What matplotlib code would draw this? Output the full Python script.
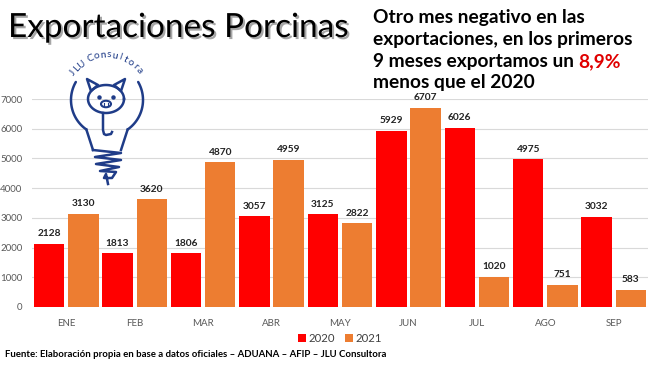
import numpy as np
import matplotlib
matplotlib.use("Agg")
import matplotlib.pyplot as plt
import matplotlib.patheffects as pe
import matplotlib.transforms as mtrans
from matplotlib.patches import Ellipse, Polygon

months = ["ENE", "FEB", "MAR", "ABR", "MAY", "JUN", "JUL", "AGO", "SEP"]
v2020 = [2128, 1813, 1806, 3057, 3125, 5929, 6026, 4975, 3032]
v2021 = [3130, 3620, 4870, 4959, 2822, 6707, 1020, 751, 583]
series_labels = ["2020", "2021"]
yticks = [0, 1000, 2000, 3000, 4000, 5000, 6000, 7000]

RED = "#FF0000"
ORANGE = "#ED7D31"
NAVY = "#1F3C88"
FONT = "Lato"

plt.rcParams["font.family"] = [FONT, "DejaVu Sans"]

W, H = 650, 366
fig = plt.figure(figsize=(W / 100, H / 100), dpi=100)
fig.patch.set_facecolor("white")

ax = fig.add_axes([32 / W, 1 - 307 / H, 616 / W, 208 / H])
x = np.arange(len(months))
bw = 0.445
b1 = ax.bar(x - 0.25, v2020, bw, color=RED, label=series_labels[0], zorder=3)
b2 = ax.bar(x + 0.25, v2021, bw, color=ORANGE, label=series_labels[1], zorder=3)
for b in (b1, b2):
    lbls = ax.bar_label(b, padding=4, fontsize=7.3, fontweight="bold", color="#222222")
    for t in lbls:
        t.set_clip_on(False)

ax.set_xlim(-0.5, len(months) - 0.5)
ax.set_ylim(0, 7000)
ax.set_yticks(yticks)
ax.set_yticklabels([str(v) for v in yticks])
ax.set_xticks(x)
ax.set_xticklabels(months)
ax.tick_params(axis="both", length=0, labelsize=7, colors="#595959")
ax.tick_params(axis="x", pad=9)
ax.tick_params(axis="y", pad=7)
ax.grid(axis="y", color="#D9D9D9", linewidth=0.8, zorder=0)
for s in ax.spines.values():
    s.set_visible(False)

leg = ax.legend(loc="center", bbox_to_anchor=(0.5, -31 / 208), ncol=2, frameon=False,
                fontsize=8.2, handlelength=0.7, handleheight=0.7, handletextpad=0.3,
                columnspacing=0.8, labelcolor="#404040")

# overlay for texts and logo in pixel coordinates
ov = fig.add_axes([0, 0, 1, 1], zorder=5)
ov.set_xlim(0, W)
ov.set_ylim(H, 0)
ov.axis("off")
ov.patch.set_alpha(0)

ov.text(8, 37, "Exportaciones Porcinas", fontsize=24, color="black", ha="left",
        va="baseline", path_effects=[pe.SimplePatchShadow(offset=(1.5, -1.5), alpha=0.35), pe.Normal()])

lines = ["Otro mes negativo en las", "exportaciones, en los primeros",
         "9 meses exportamos un ", "menos que el 2020"]
ys = [23, 45, 67, 88]
rtexts = []
for ln, yy in zip(lines, ys):
    rtexts.append(ov.text(373, yy, ln, fontsize=13.8, fontweight="bold", color="black",
                          ha="left", va="baseline"))
fig.canvas.draw()
bb = rtexts[2].get_window_extent()
ov.text(bb.x1, ys[2], "8,9%", fontsize=13.8, fontweight="bold", color="#E00000",
        ha="left", va="baseline",
        transform=mtrans.blended_transform_factory(mtrans.IdentityTransform(), ov.transData))

ov.text(5, 357, "Fuente: Elaboración propia en base a datos oficiales \u2013 ADUANA \u2013 AFIP \u2013 JLU Consultora",
        fontsize=6.9, fontweight="bold", color="black", ha="left", va="baseline")

# ---- logo (decorative) ----
lw = 1.8
cx, cy, r = 107, 100, 36
t = np.radians(np.linspace(150, 235, 60))
ov.plot(cx + r * np.cos(t), cy - r * np.sin(t), color=NAVY, lw=lw, solid_capstyle="round")
ov.plot([cx + r * np.cos(np.radians(235)), 93], [cy - r * np.sin(np.radians(235)), 150], color=NAVY, lw=lw)
t = np.radians(np.linspace(30, -55, 60))
ov.plot(cx + r * np.cos(t), cy - r * np.sin(t), color=NAVY, lw=lw, solid_capstyle="round")
ov.plot([cx + r * np.cos(np.radians(-55)), 121], [cy - r * np.sin(np.radians(-55)), 150], color=NAVY, lw=lw)

# pig head
th = np.linspace(0, 2 * np.pi, 100)
ov.plot(106 + 18 * np.cos(th), 99 + 14 * np.sin(th), color=NAVY, lw=lw)
ov.add_patch(Polygon([[91, 91], [87, 79], [98, 85]], closed=True, fill=False, ec=NAVY, lw=lw, joinstyle="round"))
ov.add_patch(Polygon([[121, 91], [125, 79], [114, 85]], closed=True, fill=False, ec=NAVY, lw=lw, joinstyle="round"))
ov.plot([99], [97], "o", color=NAVY, ms=2.2)
ov.plot([113], [97], "o", color=NAVY, ms=2.2)
ov.add_patch(Ellipse((106, 104), 10, 6.5, fill=False, ec=NAVY, lw=1.5))
ov.plot([104, 104], [102.5, 105.5], color=NAVY, lw=0.8)
ov.plot([108, 108], [102.5, 105.5], color=NAVY, lw=0.8)
# stem
ov.plot([103, 103, 104, 106, 111, 112], [113, 130, 134, 135, 134, 132], color=NAVY, lw=lw)
# spiral
zx = [93, 121, 95, 121, 96, 119, 100, 116, 112, 104, 106, 108]
zy = [150, 153, 157, 160, 164, 167, 171, 172, 178, 178, 174, 184]
ov.plot(zx, zy, color=NAVY, lw=lw, solid_joinstyle="round")

# curved text
txt = "JLU Consultora"
angs = np.linspace(146, 38, len(txt))
for ch, a in zip(txt, angs):
    ar = np.radians(a)
    px = cx + 41 * np.cos(ar)
    py = cy - 4 - 41 * np.sin(ar)
    ov.text(px, py, ch, fontsize=7.3, color=NAVY, ha="center", va="center", rotation=a - 90)

fig.savefig("out.png", dpi=100)
